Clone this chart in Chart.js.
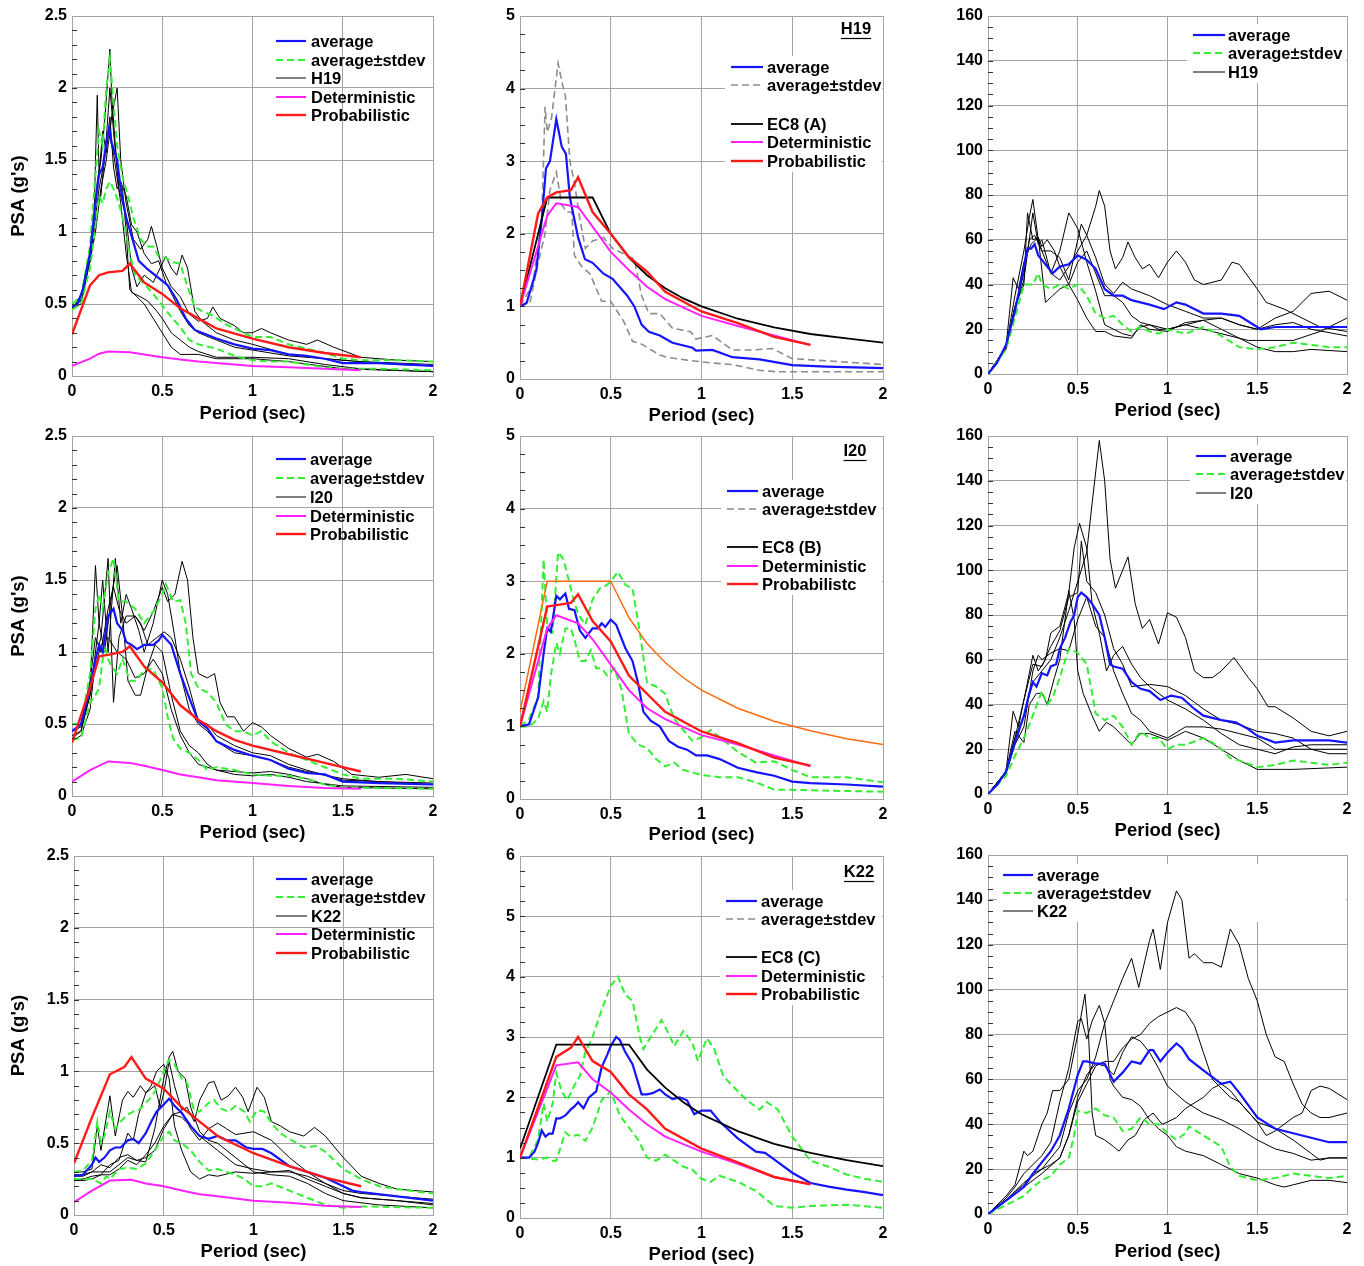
<!DOCTYPE html>
<html><head><meta charset="utf-8">
<script src="https://cdn.jsdelivr.net/npm/chart.js@4.4.1/dist/chart.umd.min.js"></script>
<style>
html,body{margin:0;padding:0;background:#fff;overflow:hidden;width:1364px;height:1266px;position:relative;}
canvas{position:absolute;}
</style></head><body>
<script>
// ===================== DATA (period sec, value) =====================
// ---- H19 : PSA (g) ----
const h19_psa_avg = [[0,0.48],[0.03,0.5],[0.06,0.6],[0.1,0.85],[0.13,1.2],[0.15,1.4],[0.17,1.45],[0.19,1.62],[0.205,1.72],[0.22,1.62],[0.25,1.5],[0.27,1.3],[0.3,1.1],[0.34,0.93],[0.37,0.8],[0.42,0.74],[0.46,0.7],[0.5,0.66],[0.53,0.63],[0.58,0.53],[0.63,0.4],[0.68,0.32],[0.72,0.3],[0.8,0.26],[0.9,0.22],[1.0,0.19],[1.1,0.18],[1.2,0.15],[1.3,0.14],[1.4,0.12],[1.5,0.09],[1.7,0.09],[2.0,0.07]];
const h19_psa_hi = [[0,0.5],[0.05,0.55],[0.1,0.9],[0.13,1.4],[0.15,1.7],[0.17,1.6],[0.19,2.0],[0.21,2.2],[0.23,1.9],[0.25,1.6],[0.28,1.38],[0.31,1.25],[0.34,1.1],[0.38,0.95],[0.42,0.9],[0.45,0.9],[0.48,0.83],[0.52,0.82],[0.56,0.79],[0.6,0.78],[0.64,0.62],[0.68,0.48],[0.72,0.45],[0.78,0.42],[0.85,0.36],[0.9,0.33],[1.0,0.27],[1.1,0.27],[1.2,0.22],[1.3,0.19],[1.4,0.16],[1.5,0.12],[1.6,0.11],[1.8,0.11],[2.0,0.1]];
const h19_psa_lo = [[0,0.46],[0.05,0.5],[0.1,0.75],[0.13,1.05],[0.15,1.25],[0.17,1.2],[0.19,1.3],[0.21,1.35],[0.23,1.3],[0.26,1.2],[0.29,1.05],[0.32,0.85],[0.35,0.7],[0.4,0.64],[0.45,0.57],[0.5,0.49],[0.55,0.41],[0.6,0.34],[0.65,0.25],[0.7,0.22],[0.8,0.19],[0.9,0.14],[1.0,0.11],[1.1,0.1],[1.2,0.1],[1.3,0.08],[1.4,0.06],[1.5,0.05],[1.7,0.05],[2.0,0.04]];
const h19_psa_r1 = [[0,0.47],[0.05,0.55],[0.08,0.75],[0.1,0.85],[0.12,1.1],[0.14,1.35],[0.16,1.5],[0.18,1.75],[0.2,2.1],[0.21,2.27],[0.22,1.95],[0.24,1.6],[0.26,1.35],[0.28,1.3],[0.3,1.0],[0.32,0.6],[0.36,0.55],[0.4,0.5],[0.45,0.4],[0.5,0.3],[0.55,0.2],[0.6,0.15],[0.7,0.15],[0.8,0.12],[1.0,0.12],[1.2,0.1],[1.5,0.05],[2.0,0.03]];
const h19_psa_r2 = [[0,0.48],[0.05,0.52],[0.08,0.7],[0.1,0.88],[0.12,0.95],[0.13,1.5],[0.14,1.95],[0.15,1.4],[0.17,1.7],[0.19,1.55],[0.21,1.8],[0.23,1.45],[0.25,1.3],[0.27,1.35],[0.3,1.25],[0.33,1.05],[0.36,1.0],[0.4,0.85],[0.44,0.78],[0.48,0.8],[0.52,0.65],[0.56,0.55],[0.6,0.45],[0.65,0.35],[0.7,0.3],[0.8,0.25],[0.9,0.2],[1.0,0.18],[1.2,0.14],[1.4,0.12],[1.6,0.1],[1.8,0.08],[2.0,0.07]];
const h19_psa_r3 = [[0,0.5],[0.05,0.55],[0.1,0.8],[0.13,1.0],[0.16,1.3],[0.19,1.5],[0.22,1.8],[0.25,2.0],[0.27,1.5],[0.3,1.2],[0.34,0.95],[0.38,0.88],[0.42,0.95],[0.44,1.04],[0.47,0.9],[0.5,0.75],[0.55,0.62],[0.6,0.55],[0.65,0.43],[0.7,0.38],[0.75,0.4],[0.78,0.48],[0.82,0.4],[0.9,0.35],[0.95,0.3],[1.0,0.3],[1.05,0.33],[1.1,0.3],[1.2,0.25],[1.3,0.22],[1.36,0.25],[1.45,0.2],[1.6,0.13],[1.8,0.11],[2.0,0.1]];
const h19_psa_r4 = [[0,0.47],[0.05,0.5],[0.1,0.8],[0.13,1.2],[0.16,1.25],[0.19,1.65],[0.21,2.0],[0.23,1.7],[0.26,1.3],[0.3,1.1],[0.33,0.75],[0.36,0.62],[0.4,0.7],[0.45,0.65],[0.5,0.78],[0.52,0.83],[0.55,0.75],[0.58,0.7],[0.61,0.84],[0.64,0.75],[0.68,0.45],[0.72,0.38],[0.8,0.3],[0.9,0.25],[1.0,0.22],[1.2,0.15],[1.4,0.12],[1.6,0.1],[2.0,0.08]];
const h19_psa_r5 = [[0,0.48],[0.05,0.53],[0.1,0.8],[0.13,1.1],[0.15,1.3],[0.18,1.5],[0.2,1.7],[0.23,1.55],[0.27,1.2],[0.3,0.85],[0.33,0.58],[0.38,0.55],[0.42,0.52],[0.47,0.45],[0.5,0.4],[0.55,0.3],[0.6,0.25],[0.65,0.2],[0.7,0.17],[0.8,0.13],[0.9,0.13],[1.0,0.13],[1.2,0.12],[1.4,0.08],[1.6,0.05],[2.0,0.03]];
const h19_psa_det = [[0,0.07],[0.1,0.12],[0.15,0.155],[0.2,0.17],[0.32,0.165],[0.4,0.15],[0.5,0.13],[0.6,0.115],[0.7,0.1],[0.8,0.09],[1.0,0.07],[1.2,0.06],[1.4,0.05],[1.6,0.04]];
const h19_psa_prob = [[0,0.29],[0.1,0.63],[0.15,0.7],[0.2,0.72],[0.28,0.73],[0.32,0.78],[0.4,0.65],[0.5,0.57],[0.6,0.47],[0.7,0.4],[0.8,0.33],[1.0,0.26],[1.2,0.2],[1.4,0.16],[1.6,0.13]];
// ---- H19 : PSA/PHGA ----
const h19_nrm_avg = [[0,1],[0.037,1.05],[0.09,1.5],[0.12,2.2],[0.143,2.9],[0.165,3.0],[0.2,3.58],[0.23,3.2],[0.253,3.1],[0.275,2.5],[0.32,1.95],[0.358,1.65],[0.4,1.6],[0.46,1.45],[0.51,1.38],[0.59,1.15],[0.63,1.0],[0.67,0.75],[0.71,0.65],[0.77,0.6],[0.84,0.5],[0.95,0.43],[0.97,0.39],[1.06,0.4],[1.17,0.3],[1.32,0.27],[1.5,0.19],[1.69,0.17],[2.0,0.15]];
const h19_nrm_hi = [[0,1],[0.07,1.3],[0.12,2.2],[0.138,3.75],[0.15,3.4],[0.174,3.6],[0.193,4.0],[0.21,4.35],[0.23,4.1],[0.25,3.9],[0.275,3.0],[0.3,2.7],[0.33,2.2],[0.36,1.8],[0.4,1.9],[0.46,1.95],[0.51,1.8],[0.59,1.7],[0.63,1.65],[0.67,1.15],[0.71,0.9],[0.77,0.9],[0.84,0.7],[0.94,0.65],[0.97,0.55],[1.06,0.6],[1.17,0.4],[1.28,0.4],[1.39,0.42],[1.5,0.28],[1.69,0.25],[2.0,0.2]];
const h19_nrm_lo = [[0,1],[0.055,1.05],[0.1,1.6],[0.138,2.0],[0.165,2.6],[0.2,2.85],[0.23,2.4],[0.257,2.3],[0.285,2.3],[0.3,1.7],[0.34,1.55],[0.385,1.45],[0.45,1.07],[0.5,1.07],[0.57,0.8],[0.62,0.52],[0.67,0.48],[0.77,0.33],[0.81,0.3],[0.92,0.26],[1.06,0.22],[1.17,0.2],[1.32,0.12],[1.41,0.1],[2.0,0.1]];
const h19_nrm_ec8 = [[0,1],[0.15,2.5],[0.4,2.5],[0.5,2.0],[0.6,1.67],[0.7,1.43],[0.8,1.25],[0.9,1.11],[1.0,1.0],[1.2,0.83],[1.4,0.71],[1.6,0.62],[1.8,0.56],[2.0,0.5]];
const h19_nrm_det = [[0,1],[0.15,2.25],[0.2,2.42],[0.32,2.37],[0.4,2.1],[0.5,1.75],[0.6,1.5],[0.7,1.27],[0.8,1.1],[1.0,0.87],[1.2,0.73],[1.4,0.6],[1.6,0.47]];
const h19_nrm_prob = [[0,1],[0.1,2.28],[0.15,2.5],[0.2,2.57],[0.28,2.6],[0.32,2.78],[0.4,2.3],[0.5,2.0],[0.6,1.68],[0.7,1.48],[0.8,1.2],[1.0,0.93],[1.2,0.77],[1.4,0.58],[1.6,0.47]];
// ---- H19 : PSV (cm/s) ----
const h19_psv_avg = [[0,0],[0.05,5],[0.1,13],[0.15,28],[0.2,48],[0.22,56],[0.24,56],[0.26,58],[0.28,53],[0.3,51],[0.33,48],[0.36,45],[0.4,48],[0.45,49],[0.5,53],[0.55,51],[0.6,47],[0.65,38],[0.7,35],[0.75,35],[0.8,33],[0.9,31],[0.98,29],[1.05,32],[1.1,31],[1.2,27],[1.3,27],[1.4,26],[1.52,20],[1.6,21],[1.8,21],[2.0,21]];
const h19_psv_std = [[0,0],[0.1,11],[0.15,25],[0.2,40],[0.25,40],[0.28,45],[0.3,40],[0.35,38],[0.4,40],[0.45,38],[0.5,40],[0.55,35],[0.6,27],[0.65,25],[0.7,26],[0.75,22],[0.8,19],[0.85,21],[0.9,19],[0.95,18],[1.0,20],[1.1,18],[1.2,21],[1.3,17],[1.4,12],[1.5,11],[1.6,12],[1.7,14],[1.8,13],[1.9,12],[2.0,12]];
const h19_psv_r1 = [[0,0],[0.1,12],[0.15,30],[0.2,45],[0.23,60],[0.26,62],[0.3,55],[0.35,45],[0.4,42],[0.45,48],[0.5,55],[0.55,62],[0.6,75],[0.62,82],[0.65,75],[0.68,55],[0.71,47],[0.75,52],[0.78,59],[0.82,52],[0.86,47],[0.9,49],[0.95,43],[1.0,50],[1.05,55],[1.1,50],[1.15,42],[1.2,40],[1.3,42],[1.36,50],[1.4,49],[1.5,38],[1.55,32],[1.65,29],[1.75,25],[1.85,21],[2.0,19]];
const h19_psv_r2 = [[0,0],[0.1,12],[0.15,30],[0.2,42],[0.25,72],[0.28,58],[0.3,60],[0.35,45],[0.4,55],[0.45,72],[0.5,65],[0.55,50],[0.6,37],[0.65,22],[0.7,20],[0.75,18],[0.8,17],[0.85,21],[0.9,22],[0.95,20],[1.0,20],[1.1,22],[1.2,24],[1.3,25],[1.4,22],[1.5,20],[1.6,25],[1.7,28],[1.8,36],[1.9,37],[2.0,33]];
const h19_psv_r3 = [[0,0],[0.1,12],[0.15,35],[0.2,55],[0.23,70],[0.25,78],[0.28,60],[0.3,55],[0.35,55],[0.4,52],[0.45,42],[0.5,60],[0.52,67],[0.55,62],[0.6,52],[0.65,40],[0.7,36],[0.75,41],[0.8,38],[0.9,35],[1.0,31],[1.1,28],[1.2,25],[1.3,25],[1.4,22],[1.5,20],[1.6,22],[1.7,23],[1.8,20],[2.0,17]];
const h19_psv_r4 = [[0,0],[0.1,11],[0.15,30],[0.2,40],[0.22,72],[0.25,60],[0.28,61],[0.32,32],[0.36,35],[0.4,38],[0.45,40],[0.5,33],[0.55,25],[0.6,19],[0.65,19],[0.7,17],[0.8,16],[0.85,22],[0.9,20],[1.0,19],[1.1,23],[1.2,24],[1.3,20],[1.4,16],[1.5,12],[1.6,10],[1.7,10],[1.8,11],[2.0,10]];
const h19_psv_r5 = [[0,0],[0.1,12],[0.14,43],[0.17,38],[0.2,50],[0.24,58],[0.28,61],[0.3,57],[0.33,60],[0.37,55],[0.4,48],[0.45,40],[0.5,50],[0.55,55],[0.6,45],[0.65,35],[0.7,35],[0.75,32],[0.8,26],[0.85,23],[0.9,22],[1.0,20],[1.1,22],[1.2,20],[1.3,18],[1.45,15],[1.5,15],[1.7,15],[1.85,19],[2.0,25]];
// ---- I20 : PSA (g) ----
const i20_psa_avg = [[0,0.45],[0.05,0.5],[0.1,0.75],[0.13,0.95],[0.15,1.05],[0.17,1.0],[0.2,1.25],[0.23,1.3],[0.25,1.2],[0.28,1.15],[0.3,1.07],[0.33,1.05],[0.36,1.02],[0.4,1.05],[0.45,1.05],[0.48,1.08],[0.5,1.12],[0.55,1.05],[0.6,0.85],[0.65,0.68],[0.7,0.52],[0.75,0.47],[0.8,0.38],[0.9,0.32],[1.0,0.28],[1.1,0.25],[1.2,0.19],[1.3,0.16],[1.4,0.15],[1.5,0.1],[1.7,0.09],[2.0,0.08]];
const i20_psa_hi = [[0,0.5],[0.05,0.5],[0.1,0.85],[0.13,1.3],[0.15,1.4],[0.17,1.3],[0.2,1.55],[0.23,1.65],[0.26,1.35],[0.3,1.35],[0.35,1.3],[0.4,1.2],[0.45,1.28],[0.5,1.4],[0.52,1.47],[0.56,1.35],[0.6,1.36],[0.63,1.2],[0.66,0.85],[0.7,0.75],[0.75,0.72],[0.8,0.65],[0.85,0.5],[0.9,0.45],[0.95,0.45],[1.0,0.42],[1.05,0.45],[1.1,0.38],[1.2,0.3],[1.3,0.25],[1.4,0.2],[1.5,0.15],[1.6,0.12],[1.8,0.12],[2.0,0.1]];
const i20_psa_lo = [[0,0.4],[0.05,0.4],[0.1,0.65],[0.13,0.7],[0.15,0.75],[0.18,1.05],[0.2,0.95],[0.22,0.9],[0.25,0.85],[0.28,0.95],[0.32,0.8],[0.36,0.8],[0.4,0.88],[0.45,0.88],[0.5,0.75],[0.53,0.55],[0.56,0.4],[0.6,0.33],[0.65,0.3],[0.7,0.25],[0.75,0.18],[0.8,0.2],[0.9,0.18],[1.0,0.15],[1.1,0.14],[1.2,0.14],[1.3,0.12],[1.4,0.08],[1.5,0.06],[2.0,0.05]];
const i20_psa_r1 = [[0,0.45],[0.05,0.5],[0.1,0.8],[0.13,1.1],[0.16,1.0],[0.2,1.3],[0.23,1.45],[0.26,1.3],[0.3,1.2],[0.35,1.25],[0.4,1.15],[0.45,1.28],[0.5,1.45],[0.53,1.35],[0.57,1.4],[0.61,1.63],[0.64,1.5],[0.67,1.1],[0.7,0.85],[0.75,0.82],[0.79,0.85],[0.82,0.65],[0.86,0.55],[0.9,0.55],[0.95,0.45],[1.0,0.51],[1.05,0.48],[1.1,0.42],[1.2,0.33],[1.3,0.27],[1.36,0.29],[1.45,0.24],[1.55,0.15],[1.7,0.13],[1.85,0.15],[2.0,0.12]];
const i20_psa_r2 = [[0,0.4],[0.05,0.45],[0.1,0.75],[0.13,1.6],[0.15,1.2],[0.17,1.5],[0.2,1.0],[0.24,1.65],[0.27,1.2],[0.3,1.4],[0.33,1.3],[0.37,1.15],[0.4,1.0],[0.45,1.2],[0.5,1.5],[0.53,1.4],[0.57,1.1],[0.6,0.85],[0.65,0.6],[0.7,0.5],[0.75,0.45],[0.8,0.38],[0.9,0.3],[1.0,0.28],[1.1,0.25],[1.2,0.2],[1.3,0.17],[1.5,0.12],[1.7,0.1],[2.0,0.09]];
const i20_psa_r3 = [[0,0.38],[0.05,0.42],[0.1,0.6],[0.13,0.95],[0.16,1.1],[0.2,1.65],[0.23,0.65],[0.26,1.1],[0.3,1.25],[0.35,1.25],[0.38,1.2],[0.42,1.05],[0.47,1.1],[0.51,1.14],[0.55,1.1],[0.6,0.95],[0.65,0.75],[0.7,0.52],[0.75,0.5],[0.8,0.42],[0.9,0.35],[1.0,0.3],[1.1,0.28],[1.2,0.22],[1.3,0.18],[1.5,0.11],[1.7,0.1],[2.0,0.08]];
const i20_psa_r4 = [[0,0.45],[0.05,0.48],[0.1,0.7],[0.13,1.0],[0.15,1.2],[0.18,1.0],[0.22,1.4],[0.25,1.6],[0.28,1.25],[0.31,0.8],[0.35,0.7],[0.38,0.7],[0.42,0.9],[0.46,1.05],[0.5,1.0],[0.55,0.7],[0.6,0.45],[0.65,0.35],[0.7,0.3],[0.75,0.22],[0.8,0.18],[0.9,0.17],[1.0,0.16],[1.1,0.17],[1.2,0.15],[1.3,0.12],[1.4,0.08],[1.5,0.06],[2.0,0.05]];
const i20_psa_r5 = [[0,0.42],[0.05,0.45],[0.1,0.7],[0.13,0.9],[0.16,1.05],[0.2,1.1],[0.25,1.0],[0.3,0.95],[0.35,0.82],[0.4,0.85],[0.45,0.95],[0.5,0.85],[0.55,0.6],[0.6,0.42],[0.65,0.3],[0.7,0.22],[0.75,0.2],[0.8,0.18],[0.9,0.15],[1.0,0.14],[1.1,0.15],[1.2,0.13],[1.3,0.1],[1.5,0.07],[2.0,0.06]];
const i20_psa_det = [[0,0.1],[0.1,0.18],[0.2,0.24],[0.32,0.23],[0.4,0.21],[0.5,0.18],[0.6,0.15],[0.7,0.13],[0.8,0.11],[1.0,0.09],[1.2,0.07],[1.4,0.055],[1.6,0.05]];
const i20_psa_prob = [[0,0.37],[0.1,0.75],[0.15,0.97],[0.2,0.98],[0.28,1.0],[0.32,1.04],[0.4,0.9],[0.5,0.79],[0.6,0.63],[0.7,0.53],[0.8,0.45],[0.9,0.39],[1.0,0.35],[1.2,0.29],[1.4,0.23],[1.6,0.17]];
// ---- I20 : PSA/PHGA ----
const i20_nrm_avg = [[0,1],[0.05,1.03],[0.1,1.4],[0.13,2.0],[0.15,2.35],[0.17,2.3],[0.2,2.8],[0.22,2.75],[0.25,2.83],[0.27,2.62],[0.3,2.6],[0.33,2.32],[0.36,2.22],[0.4,2.35],[0.43,2.35],[0.45,2.42],[0.47,2.37],[0.5,2.47],[0.53,2.4],[0.58,2.08],[0.62,1.9],[0.65,1.6],[0.68,1.2],[0.72,1.08],[0.77,1.0],[0.82,0.8],[0.87,0.72],[0.92,0.68],[0.97,0.6],[1.03,0.6],[1.1,0.55],[1.2,0.43],[1.3,0.37],[1.4,0.32],[1.5,0.24],[1.6,0.22],[1.8,0.2],[2.0,0.17]];
const i20_nrm_hi = [[0,1],[0.05,1.1],[0.1,1.4],[0.13,3.3],[0.15,2.4],[0.18,2.3],[0.21,3.4],[0.24,3.3],[0.26,3.1],[0.29,2.8],[0.32,2.55],[0.36,2.4],[0.4,2.75],[0.44,2.9],[0.48,2.95],[0.5,3.0],[0.54,3.13],[0.58,2.95],[0.62,2.9],[0.66,2.3],[0.7,1.6],[0.75,1.55],[0.8,1.45],[0.85,1.1],[0.9,0.95],[0.95,0.8],[1.0,0.85],[1.05,0.95],[1.1,0.85],[1.2,0.65],[1.3,0.5],[1.4,0.52],[1.5,0.4],[1.6,0.3],[1.8,0.3],[2.0,0.23]];
const i20_nrm_lo = [[0,1],[0.05,1.0],[0.1,1.1],[0.13,1.35],[0.15,1.2],[0.17,1.7],[0.2,2.15],[0.22,2.0],[0.25,2.35],[0.28,2.35],[0.3,2.2],[0.33,1.9],[0.36,1.9],[0.39,2.05],[0.42,1.8],[0.45,1.8],[0.48,1.7],[0.52,1.8],[0.56,1.5],[0.6,0.9],[0.65,0.75],[0.7,0.7],[0.75,0.55],[0.8,0.45],[0.85,0.5],[0.9,0.4],[1.0,0.33],[1.1,0.3],[1.2,0.3],[1.3,0.23],[1.4,0.13],[1.6,0.12],[2.0,0.1]];
const i20_nrm_ec8 = [[0,1.2],[0.15,3.0],[0.5,3.0],[0.6,2.5],[0.7,2.14],[0.8,1.88],[0.9,1.67],[1.0,1.5],[1.2,1.25],[1.4,1.07],[1.6,0.94],[1.8,0.83],[2.0,0.75]];
const i20_nrm_det = [[0,1],[0.15,2.35],[0.2,2.53],[0.32,2.42],[0.4,2.2],[0.5,1.85],[0.6,1.5],[0.7,1.25],[0.8,1.1],[1.0,0.88],[1.2,0.75],[1.4,0.6],[1.6,0.45]];
const i20_nrm_prob = [[0,1],[0.15,2.65],[0.2,2.67],[0.28,2.7],[0.32,2.82],[0.4,2.45],[0.5,2.17],[0.6,1.7],[0.7,1.45],[0.8,1.2],[1.0,0.93],[1.2,0.77],[1.4,0.57],[1.6,0.46]];
// ---- I20 : PSV (cm/s) ----
const i20_psv_avg = [[0,0],[0.05,4],[0.1,10],[0.15,23],[0.2,35],[0.23,45],[0.25,50],[0.27,48],[0.3,54],[0.33,53],[0.35,57],[0.38,58],[0.4,65],[0.43,70],[0.46,77],[0.48,80],[0.5,88],[0.52,90],[0.55,88],[0.58,85],[0.62,80],[0.65,70],[0.68,58],[0.7,57],[0.75,56],[0.8,50],[0.85,47],[0.9,46],[0.96,42],[1.02,44],[1.08,43],[1.15,38],[1.2,35],[1.3,33],[1.38,32],[1.45,29],[1.5,26],[1.6,23],[1.7,24],[1.8,24],[1.9,24],[2.0,23]];
const i20_psv_std = [[0,0],[0.1,8],[0.15,17],[0.2,25],[0.25,35],[0.3,46],[0.33,40],[0.36,43],[0.4,52],[0.45,65],[0.5,63],[0.55,58],[0.58,45],[0.6,36],[0.65,33],[0.7,35],[0.75,30],[0.8,22],[0.85,28],[0.9,25],[0.95,25],[1.0,20],[1.05,22],[1.1,22],[1.2,25],[1.25,23],[1.3,20],[1.35,16],[1.4,15],[1.5,12],[1.6,13],[1.7,15],[1.8,14],[1.9,13],[2.0,14]];
const i20_psv_r1 = [[0,0],[0.1,10],[0.15,25],[0.2,35],[0.25,50],[0.3,55],[0.35,60],[0.4,70],[0.45,82],[0.5,95],[0.55,108],[0.58,130],[0.62,158],[0.65,140],[0.68,105],[0.71,92],[0.75,100],[0.78,106],[0.82,85],[0.86,74],[0.9,78],[0.95,67],[1.0,81],[1.05,79],[1.1,70],[1.15,55],[1.2,52],[1.25,52],[1.3,55],[1.37,61],[1.45,52],[1.5,47],[1.56,39],[1.6,39],[1.7,34],[1.8,28],[1.9,26],[2.0,28]];
const i20_psv_r2 = [[0,0],[0.1,10],[0.14,37],[0.17,30],[0.2,42],[0.25,62],[0.28,55],[0.32,60],[0.35,72],[0.4,75],[0.45,90],[0.48,110],[0.51,121],[0.55,110],[0.58,85],[0.62,72],[0.66,55],[0.7,62],[0.75,66],[0.8,58],[0.85,52],[0.9,48],[1.0,42],[1.1,38],[1.2,33],[1.3,27],[1.4,22],[1.5,20],[1.6,18],[1.7,21],[1.8,22],[2.0,22]];
const i20_psv_r3 = [[0,0],[0.1,10],[0.15,25],[0.2,42],[0.25,58],[0.3,57],[0.35,66],[0.4,73],[0.45,88],[0.5,90],[0.52,113],[0.55,95],[0.6,90],[0.65,80],[0.7,65],[0.75,58],[0.8,48],[0.9,49],[1.0,48],[1.1,44],[1.2,38],[1.3,33],[1.4,31],[1.5,28],[1.6,27],[1.7,25],[1.8,20],[1.9,18],[2.0,18]];
const i20_psv_r4 = [[0,0],[0.1,10],[0.15,28],[0.2,23],[0.23,40],[0.27,45],[0.3,45],[0.33,40],[0.37,52],[0.4,60],[0.45,91],[0.48,78],[0.5,55],[0.53,45],[0.58,35],[0.62,28],[0.66,32],[0.7,30],[0.75,26],[0.8,22],[0.85,27],[0.9,27],[1.0,24],[1.1,28],[1.2,25],[1.3,20],[1.4,15],[1.5,11],[1.7,11],[2.0,12]];
const i20_psv_r5 = [[0,0],[0.1,9],[0.15,22],[0.2,30],[0.25,55],[0.28,62],[0.3,60],[0.35,63],[0.4,65],[0.45,64],[0.5,78],[0.55,88],[0.6,75],[0.65,70],[0.7,55],[0.75,45],[0.8,36],[0.85,33],[0.9,28],[1.0,25],[1.1,30],[1.2,30],[1.3,29],[1.4,27],[1.5,25],[1.6,20],[1.7,20],[1.8,20],[2.0,20]];
// ---- K22 : PSA (g) ----
const k22_psa_avg = [[0,0.27],[0.05,0.28],[0.1,0.35],[0.12,0.4],[0.14,0.37],[0.17,0.4],[0.2,0.45],[0.23,0.47],[0.26,0.47],[0.3,0.52],[0.33,0.53],[0.36,0.5],[0.4,0.57],[0.43,0.65],[0.46,0.72],[0.5,0.77],[0.53,0.81],[0.56,0.76],[0.6,0.71],[0.65,0.62],[0.7,0.55],[0.75,0.53],[0.8,0.55],[0.85,0.52],[0.9,0.52],[0.96,0.47],[1.0,0.46],[1.05,0.46],[1.1,0.43],[1.2,0.34],[1.3,0.3],[1.4,0.26],[1.5,0.2],[1.55,0.17],[1.6,0.16],[1.8,0.13],[2.0,0.1]];
const k22_psa_hi = [[0,0.3],[0.05,0.31],[0.1,0.38],[0.13,0.65],[0.15,0.5],[0.17,0.55],[0.2,0.72],[0.23,0.6],[0.26,0.65],[0.3,0.7],[0.33,0.72],[0.36,0.73],[0.4,0.78],[0.43,0.82],[0.46,0.88],[0.5,1.0],[0.53,1.08],[0.56,1.05],[0.6,0.95],[0.63,0.92],[0.67,0.72],[0.7,0.72],[0.75,0.78],[0.78,0.8],[0.82,0.74],[0.86,0.72],[0.9,0.76],[0.95,0.72],[0.98,0.65],[1.02,0.73],[1.06,0.72],[1.1,0.64],[1.15,0.57],[1.2,0.53],[1.28,0.47],[1.35,0.48],[1.4,0.44],[1.5,0.32],[1.6,0.25],[1.7,0.2],[1.8,0.18],[2.0,0.15]];
const k22_psa_lo = [[0,0.25],[0.05,0.25],[0.1,0.25],[0.15,0.22],[0.18,0.27],[0.2,0.25],[0.25,0.32],[0.3,0.33],[0.35,0.32],[0.4,0.36],[0.45,0.45],[0.5,0.55],[0.53,0.58],[0.56,0.52],[0.6,0.5],[0.65,0.45],[0.7,0.37],[0.75,0.31],[0.8,0.32],[0.85,0.3],[0.9,0.28],[0.95,0.25],[1.0,0.2],[1.05,0.2],[1.1,0.22],[1.2,0.17],[1.3,0.12],[1.4,0.07],[1.5,0.05],[1.6,0.06],[2.0,0.05]];
const k22_psa_r1 = [[0,0.3],[0.05,0.3],[0.1,0.32],[0.13,0.62],[0.15,0.45],[0.2,0.83],[0.23,0.55],[0.27,0.8],[0.3,0.86],[0.33,0.82],[0.37,0.9],[0.4,0.85],[0.45,0.9],[0.48,0.75],[0.5,0.85],[0.53,1.07],[0.56,0.9],[0.6,0.73],[0.63,0.75],[0.67,0.65],[0.7,0.8],[0.75,0.92],[0.78,0.93],[0.82,0.8],[0.86,0.83],[0.9,0.89],[0.94,0.82],[0.97,0.72],[1.02,0.89],[1.06,0.82],[1.1,0.65],[1.15,0.62],[1.2,0.58],[1.28,0.55],[1.34,0.61],[1.4,0.55],[1.5,0.4],[1.6,0.27],[1.7,0.22],[1.8,0.18],[2.0,0.16]];
const k22_psa_r2 = [[0,0.28],[0.05,0.28],[0.1,0.3],[0.15,0.3],[0.2,0.3],[0.25,0.35],[0.3,0.4],[0.35,0.38],[0.4,0.37],[0.45,0.6],[0.5,0.95],[0.53,1.1],[0.55,1.14],[0.58,1.0],[0.62,0.95],[0.65,0.75],[0.7,0.58],[0.75,0.52],[0.8,0.5],[0.9,0.4],[1.0,0.3],[1.1,0.28],[1.2,0.27],[1.3,0.22],[1.4,0.15],[1.5,0.1],[1.7,0.07],[2.0,0.05]];
const k22_psa_r3 = [[0,0.25],[0.05,0.25],[0.1,0.27],[0.15,0.28],[0.2,0.35],[0.25,0.38],[0.3,0.57],[0.33,0.52],[0.36,0.7],[0.4,0.85],[0.43,0.9],[0.46,1.0],[0.5,1.05],[0.53,0.95],[0.56,0.62],[0.6,0.45],[0.65,0.3],[0.7,0.25],[0.75,0.28],[0.8,0.27],[0.9,0.3],[1.0,0.29],[1.1,0.3],[1.2,0.31],[1.3,0.25],[1.4,0.2],[1.5,0.15],[1.6,0.12],[1.8,0.1],[2.0,0.08]];
const k22_psa_r4 = [[0,0.27],[0.05,0.27],[0.1,0.3],[0.15,0.35],[0.2,0.33],[0.25,0.4],[0.3,0.42],[0.35,0.38],[0.4,0.4],[0.45,0.45],[0.5,0.6],[0.55,0.7],[0.6,0.72],[0.65,0.6],[0.7,0.52],[0.75,0.6],[0.8,0.64],[0.85,0.6],[0.9,0.56],[1.0,0.58],[1.1,0.52],[1.2,0.4],[1.3,0.3],[1.4,0.22],[1.5,0.15],[1.6,0.12],[1.8,0.1],[2.0,0.07]];
const k22_psa_r5 = [[0,0.24],[0.05,0.24],[0.1,0.25],[0.15,0.28],[0.2,0.28],[0.25,0.32],[0.3,0.38],[0.35,0.35],[0.4,0.42],[0.45,0.5],[0.5,0.62],[0.55,0.7],[0.6,0.68],[0.65,0.62],[0.7,0.55],[0.8,0.45],[0.9,0.35],[1.0,0.32],[1.1,0.3],[1.2,0.3],[1.3,0.27],[1.4,0.22],[1.5,0.17],[1.6,0.15],[1.8,0.13],[2.0,0.11]];
const k22_psa_det = [[0,0.09],[0.1,0.17],[0.2,0.24],[0.32,0.245],[0.4,0.22],[0.5,0.2],[0.6,0.17],[0.7,0.145],[0.8,0.13],[1.0,0.1],[1.2,0.085],[1.4,0.065],[1.6,0.055]];
const k22_psa_prob = [[0,0.36],[0.1,0.68],[0.2,0.98],[0.28,1.03],[0.32,1.1],[0.4,0.95],[0.5,0.88],[0.6,0.75],[0.7,0.65],[0.8,0.55],[1.0,0.43],[1.2,0.34],[1.4,0.26],[1.6,0.2]];
// ---- K22 : PSA/PHGA ----
const k22_nrm_avg = [[0,1],[0.05,1.0],[0.08,1.1],[0.1,1.25],[0.12,1.45],[0.14,1.35],[0.16,1.4],[0.18,1.4],[0.2,1.65],[0.22,1.65],[0.25,1.7],[0.28,1.8],[0.3,1.85],[0.32,1.92],[0.35,1.82],[0.38,2.0],[0.42,2.1],[0.45,2.5],[0.48,2.7],[0.5,2.85],[0.53,3.0],[0.55,2.95],[0.58,2.75],[0.62,2.55],[0.67,2.05],[0.7,2.05],[0.73,2.07],[0.77,2.13],[0.8,2.05],[0.84,1.97],[0.88,2.0],[0.92,1.95],[0.96,1.72],[1.0,1.78],[1.05,1.78],[1.1,1.6],[1.2,1.32],[1.3,1.1],[1.35,1.08],[1.4,0.97],[1.5,0.75],[1.6,0.58],[1.7,0.52],[1.8,0.47],[1.9,0.43],[2.0,0.38]];
const k22_nrm_hi = [[0,1],[0.05,1.0],[0.1,1.3],[0.13,1.9],[0.15,1.6],[0.18,1.9],[0.2,2.4],[0.23,2.1],[0.26,1.95],[0.3,2.2],[0.33,2.35],[0.36,2.75],[0.4,3.0],[0.45,3.45],[0.5,3.85],[0.54,4.0],[0.58,3.7],[0.62,3.6],[0.66,3.0],[0.68,2.8],[0.72,3.0],[0.78,3.28],[0.82,3.05],[0.85,2.85],[0.9,3.1],[0.95,2.9],[0.98,2.6],[1.03,2.98],[1.07,2.8],[1.12,2.35],[1.2,2.1],[1.25,1.95],[1.32,1.8],[1.36,1.92],[1.42,1.8],[1.5,1.35],[1.6,0.95],[1.7,0.85],[1.8,0.72],[1.9,0.65],[2.0,0.6]];
const k22_nrm_lo = [[0,1],[0.1,0.97],[0.15,1.0],[0.18,0.95],[0.2,0.95],[0.25,1.42],[0.28,1.35],[0.32,1.38],[0.36,1.28],[0.4,1.5],[0.45,1.95],[0.5,2.1],[0.55,1.7],[0.6,1.5],[0.65,1.3],[0.7,1.0],[0.75,0.95],[0.8,1.05],[0.85,0.95],[0.9,0.85],[0.95,0.8],[1.0,0.65],[1.05,0.6],[1.1,0.7],[1.2,0.6],[1.3,0.45],[1.4,0.2],[1.5,0.17],[1.6,0.2],[1.8,0.22],[2.0,0.17]];
const k22_nrm_ec8 = [[0,1.15],[0.2,2.875],[0.6,2.875],[0.7,2.46],[0.8,2.16],[0.9,1.92],[1.0,1.72],[1.2,1.44],[1.4,1.23],[1.6,1.08],[1.8,0.96],[2.0,0.86]];
const k22_nrm_det = [[0,1],[0.2,2.53],[0.32,2.58],[0.4,2.3],[0.5,2.08],[0.6,1.8],[0.7,1.55],[0.8,1.35],[1.0,1.1],[1.2,0.9],[1.4,0.68],[1.6,0.56]];
const k22_nrm_prob = [[0,1],[0.2,2.67],[0.28,2.82],[0.32,3.0],[0.4,2.6],[0.5,2.42],[0.6,2.05],[0.7,1.8],[0.8,1.48],[1.0,1.15],[1.2,0.92],[1.4,0.68],[1.6,0.56]];
// ---- K22 : PSV (cm/s) ----
const k22_psv_avg = [[0,0],[0.05,3],[0.1,6],[0.15,9],[0.2,12],[0.25,18],[0.3,23],[0.35,28],[0.4,35],[0.45,47],[0.5,62],[0.53,68],[0.55,68],[0.6,67],[0.65,67],[0.7,59],[0.75,63],[0.8,68],[0.85,67],[0.9,73],[0.92,73],[0.96,68],[1.0,72],[1.05,76],[1.08,74],[1.12,69],[1.2,64],[1.25,61],[1.3,58],[1.35,59],[1.4,54],[1.5,43],[1.6,38],[1.7,36],[1.8,34],[1.9,32],[2.0,32]];
const k22_psv_std = [[0,0],[0.1,4],[0.2,8],[0.25,12],[0.3,15],[0.35,17],[0.4,22],[0.45,25],[0.48,35],[0.5,46],[0.55,45],[0.6,47],[0.65,44],[0.7,43],[0.75,37],[0.8,38],[0.85,43],[0.9,40],[0.95,40],[1.0,36],[1.05,33],[1.1,36],[1.12,39],[1.2,35],[1.3,30],[1.35,21],[1.4,17],[1.5,15],[1.6,16],[1.7,18],[1.8,17],[1.9,16],[2.0,17]];
const k22_psv_r1 = [[0,0],[0.1,6],[0.15,10],[0.2,13],[0.25,18],[0.3,20],[0.35,25],[0.4,30],[0.45,45],[0.5,55],[0.55,60],[0.6,70],[0.65,85],[0.7,95],[0.75,105],[0.8,114],[0.84,101],[0.9,122],[0.92,127],[0.96,109],[1.0,130],[1.05,144],[1.08,140],[1.12,114],[1.15,116],[1.2,112],[1.25,112],[1.3,110],[1.35,127],[1.4,120],[1.45,105],[1.5,95],[1.55,80],[1.6,70],[1.65,68],[1.7,58],[1.75,49],[1.8,45],[1.85,43],[1.9,43],[2.0,45]];
const k22_psv_r2 = [[0,0],[0.1,8],[0.15,13],[0.2,28],[0.22,26],[0.25,28],[0.3,40],[0.33,45],[0.36,55],[0.4,55],[0.45,60],[0.5,80],[0.54,98],[0.56,80],[0.58,45],[0.6,35],[0.65,33],[0.7,30],[0.73,28],[0.78,33],[0.82,35],[0.87,42],[0.92,45],[0.97,40],[1.0,41],[1.05,43],[1.1,47],[1.2,52],[1.25,56],[1.3,58],[1.35,55],[1.4,50],[1.5,41],[1.55,35],[1.6,37],[1.7,43],[1.75,45],[1.8,55],[1.85,57],[1.9,56],[2.0,51]];
const k22_psv_r3 = [[0,0],[0.1,6],[0.15,10],[0.2,14],[0.25,17],[0.3,20],[0.35,22],[0.4,25],[0.45,35],[0.5,50],[0.55,58],[0.6,66],[0.65,68],[0.7,68],[0.75,74],[0.8,78],[0.85,80],[0.9,85],[0.95,88],[1.0,90],[1.05,92],[1.1,90],[1.15,84],[1.2,72],[1.25,60],[1.3,56],[1.35,52],[1.4,50],[1.5,41],[1.6,38],[1.7,33],[1.8,27],[1.85,24],[1.9,25],[2.0,25]];
const k22_psv_r4 = [[0,0],[0.1,7],[0.15,12],[0.2,18],[0.25,22],[0.3,26],[0.35,32],[0.4,50],[0.45,65],[0.5,86],[0.52,87],[0.55,78],[0.58,86],[0.62,93],[0.65,85],[0.68,60],[0.7,57],[0.75,52],[0.8,51],[0.85,48],[0.9,42],[0.95,38],[1.0,35],[1.05,30],[1.1,28],[1.2,26],[1.3,22],[1.4,18],[1.5,16],[1.6,13],[1.65,12],[1.7,13],[1.8,15],[1.9,15],[2.0,14]];
const k22_psv_r5 = [[0,0],[0.1,6],[0.2,12],[0.3,18],[0.4,25],[0.45,35],[0.5,52],[0.55,62],[0.6,67],[0.65,66],[0.7,62],[0.75,72],[0.8,79],[0.85,77],[0.9,72],[0.95,65],[1.0,57],[1.1,50],[1.2,45],[1.3,42],[1.4,38],[1.5,33],[1.6,29],[1.7,27],[1.8,24],[1.9,25],[2.0,25]];

// axis / legend texts
const xTitle = 'Period (sec)';
const yTitles = ["PSA (g's)", 'PSA/PHGA', 'PSV (cm/sec)'];
const sites = ['H19', 'I20', 'K22'];
const ec8Labels = ['EC8 (A)', 'EC8 (B)', 'EC8 (C)'];
const probLabels = ['Probabilistic', 'Probabilistc', 'Probabilistic'];

// ===================== RENDERING =====================
const FONT = '"Liberation Sans", Arial, Helvetica, sans-serif';
Chart.defaults.font.family = FONT;
Chart.defaults.font.weight = 'bold';
Chart.defaults.color = '#000';
const GRID = '#a3a3a3';
const TICKF = {size:16, weight:'bold'}, TITLEF = {size:18.5, weight:'bold'};
const COL = { blue:'#1414ff', green:'#33ee33', black:'#000000', magenta:'#ff22ff', red:'#ff1a1a', gray:'#8c8c8c', orange:'#ff6a10' };
const STY = {
  avg:{c:COL.blue,w:2.2,d:[]}, std:{c:COL.green,w:2,d:[7,4]}, gstd:{c:COL.gray,w:1.6,d:[7,4]},
  rec:{c:COL.black,w:1,d:[]}, det:{c:COL.magenta,w:2,d:[]}, prob:{c:COL.red,w:2.4,d:[]},
  ec8:{c:COL.black,w:1.8,d:[]}, ec8o:{c:COL.orange,w:1.5,d:[]}
};
function ds(label, arr, s) {
  return { label, data: arr.map(p => ({x:p[0], y:p[1]})), borderColor:s.c, borderWidth:s.w, borderDash:s.d,
           pointRadius:0, pointHoverRadius:0, fill:false, tension:0 };
}
const fmtTick = (v) => String(Math.round(v * 1000) / 1000);

function makeLegendPlugin(o, left, top) {
  return {
    id:'panelLegend',
    beforeDatasetsDraw(chart) {
      if (!o.box) return;
      const ctx = chart.ctx, ca = chart.chartArea;
      ctx.save(); ctx.fillStyle = '#fff';
      const x0 = o.x0 - left - 6, y0 = o.rows[0] - top - 11;
      const y1 = o.rows[o.rows.length-1] - top + 11;
      ctx.fillRect(x0, y0, ca.right - 1 - x0, y1 - y0);
      ctx.restore();
    },
    afterDatasetsDraw(chart) {
      const ctx = chart.ctx;
      ctx.save();
      ctx.font = 'bold 16.5px ' + FONT; ctx.textBaseline = 'middle'; ctx.textAlign = 'left'; ctx.fillStyle = '#000';
      o.items.forEach((it, i) => {
        if (!it) return;
        const y = o.rows[i] - top;
        ctx.beginPath(); ctx.strokeStyle = it.s.c; ctx.lineWidth = it.s.w; ctx.setLineDash(it.s.d);
        ctx.moveTo(o.x0 - left, y); ctx.lineTo(o.x1 - left, y); ctx.stroke(); ctx.setLineDash([]);
        ctx.fillText(it.t, o.tx - left, y + 1);
      });
      if (o.site) {
        const x = o.site.x - left, y = o.site.y - top;
        ctx.textAlign = 'center';
        ctx.fillText(o.site.t, x, y);
        const w = ctx.measureText(o.site.t).width;
        ctx.beginPath(); ctx.strokeStyle = '#000'; ctx.lineWidth = 1.2;
        ctx.moveTo(x - w/2, y + 9.5); ctx.lineTo(x + w/2, y + 9.5); ctx.stroke();
      }
      ctx.restore();
    }
  };
}
function makeMinorPlugin(step) {
  return {
    id:'minorTicks',
    afterDraw(chart) {
      const ctx = chart.ctx, ys = chart.scales.y, ca = chart.chartArea;
      ctx.save(); ctx.strokeStyle = '#333'; ctx.lineWidth = 1;
      const n = Math.round((ys.max - ys.min) / step);
      for (let i = 1; i < n; i++) {
        const py = Math.round(ys.getPixelForValue(ys.min + i * step)) + 0.5;
        ctx.beginPath(); ctx.moveTo(ca.left, py); ctx.lineTo(ca.left + 5, py); ctx.stroke();
      }
      ctx.restore();
    }
  };
}

function makePanel(p) {
  const cv = document.createElement('canvas');
  cv.width = p.w; cv.height = p.h;
  cv.style.left = p.left + 'px'; cv.style.top = p.top + 'px';
  cv.style.width = p.w + 'px'; cv.style.height = p.h + 'px';
  document.body.appendChild(cv);
  new Chart(cv, {
    type:'line',
    data:{ datasets:p.datasets },
    options:{
      responsive:false, animation:false, devicePixelRatio:1, events:[],
      layout:{ padding:{ top:p.padTop, right:p.padRight, left:0, bottom:0 } },
      plugins:{ legend:{display:false}, tooltip:{enabled:false} },
      scales:{
        x:{ type:'linear', min:0, max:2,
            ticks:{ stepSize:0.5, padding:6, maxRotation:0, autoSkip:false, font:TICKF, color:'#000', callback:fmtTick },
            grid:{ color:GRID, lineWidth:1, drawTicks:false }, border:{ color:GRID, width:1 },
            title:{ display:true, text:xTitle, font:TITLEF, color:'#000', padding:{top:0, bottom:2} },
            afterFit:(s) => { s.height = p.xh; } },
        y:{ type:'linear', min:0, max:p.ymax,
            ticks:{ stepSize:p.ystep, padding:5, font:TICKF, color:'#000', callback:fmtTick },
            grid:{ color:GRID, lineWidth:1, drawTicks:false }, border:{ color:GRID, width:1 },
            title:{ display:true, text:p.ytitle, font:TITLEF, color:'#000', padding:{top:p.ytp, bottom:0} },
            afterFit:(s) => { s.width = p.yw; } }
      }
    },
    plugins:[makeLegendPlugin(p.legend, p.left, p.top), makeMinorPlugin(p.minor)]
  });
}

// column geometry (page px)
const colLeft = [0, 460, 910], colW = [460, 450, 454];
const rowTop = [0, 420, 840];
const boxes = [
  [[72,433,16,376],[520,883,16,379],[988,1347,16,374]],
  [[72,433,436,796],[520,883,436,799],[988,1347,436,794]],
  [[74,433,856,1215],[520,883,856,1218],[988,1347,855,1214]]
];
const xTitleY = [[414,416,411],[833,835,831],[1252,1255,1252]];
const yTitleX = [19, 18, 20];

const psaSets = [
  {avg:h19_psa_avg,hi:h19_psa_hi,lo:h19_psa_lo,recs:[h19_psa_r1,h19_psa_r2,h19_psa_r3,h19_psa_r4,h19_psa_r5],det:h19_psa_det,prob:h19_psa_prob},
  {avg:i20_psa_avg,hi:i20_psa_hi,lo:i20_psa_lo,recs:[i20_psa_r1,i20_psa_r2,i20_psa_r3,i20_psa_r4,i20_psa_r5],det:i20_psa_det,prob:i20_psa_prob},
  {avg:k22_psa_avg,hi:k22_psa_hi,lo:k22_psa_lo,recs:[k22_psa_r1,k22_psa_r2,k22_psa_r3,k22_psa_r4,k22_psa_r5],det:k22_psa_det,prob:k22_psa_prob}
];
const nrmSets = [
  {avg:h19_nrm_avg,hi:h19_nrm_hi,lo:h19_nrm_lo,ec8:h19_nrm_ec8,det:h19_nrm_det,prob:h19_nrm_prob,std:STY.gstd,ec8s:STY.ec8},
  {avg:i20_nrm_avg,hi:i20_nrm_hi,lo:i20_nrm_lo,ec8:i20_nrm_ec8,det:i20_nrm_det,prob:i20_nrm_prob,std:STY.std,ec8s:STY.ec8o},
  {avg:k22_nrm_avg,hi:k22_nrm_hi,lo:k22_nrm_lo,ec8:k22_nrm_ec8,det:k22_nrm_det,prob:k22_nrm_prob,std:STY.std,ec8s:STY.ec8}
];
const psvSets = [
  {avg:h19_psv_avg,std:h19_psv_std,recs:[h19_psv_r1,h19_psv_r2,h19_psv_r3,h19_psv_r4,h19_psv_r5]},
  {avg:i20_psv_avg,std:i20_psv_std,recs:[i20_psv_r1,i20_psv_r2,i20_psv_r3,i20_psv_r4,i20_psv_r5]},
  {avg:k22_psv_avg,std:k22_psv_std,recs:[k22_psv_r1,k22_psv_r2,k22_psv_r3,k22_psv_r4,k22_psv_r5]}
];
const leg1 = [ {x0:276,x1:306,tx:311,rows:[41,60,78,97,115]}, {x0:276,x1:306,tx:310,rows:[459,478,497,516,534]}, {x0:276,x1:307,tx:311,rows:[879,897,916,934,953]} ];
const leg2 = [ {x0:731,x1:763,tx:767,rows:[67,85,104,124,142,161],site:{x:856,y:29}}, {x0:727,x1:758,tx:762,rows:[491,509,528,547,566,584],site:{x:855,y:451}}, {x0:726,x1:757,tx:761,rows:[901,919,938,957,976,994],site:{x:859,y:872}} ];
const leg3 = [ {x0:1193,x1:1225,tx:1228,rows:[35,53,72]}, {x0:1196,x1:1226,tx:1230,rows:[456,474,493]}, {x0:1003,x1:1033,tx:1037,rows:[875,893,911]} ];

function geom(r, c) {
  const b = boxes[r][c];
  const top = rowTop[r], left = colLeft[c], w = colW[c];
  const bottom = xTitleY[r][c] + 13;
  return { left, top, w, h: bottom - top, padTop: b[2] - top, padRight: left + w - b[1],
           yw: b[0] - left, xh: bottom - b[3], ytp: yTitleX[c] - left - 11.1 };
}

for (let r = 0; r < 3; r++) {
  {
    const s = psaSets[r], g = geom(r, 0);
    const d = [ds('Probabilistic', s.prob, STY.prob), ds('Deterministic', s.det, STY.det), ds('average', s.avg, STY.avg),
               ds('average+stdev', s.hi, STY.std), ds('average-stdev', s.lo, STY.std)];
    s.recs.forEach((rc, i) => d.push(ds(sites[r] + ' rec ' + (i+1), rc, STY.rec)));
    const L = leg1[r];
    makePanel(Object.assign(g, { ymax:2.5, ystep:0.5, minor:0.1, ytitle:yTitles[0], datasets:d,
      legend:{ x0:L.x0, x1:L.x1, tx:L.tx, rows:L.rows, box:false,
        items:[{t:'average',s:STY.avg},{t:'average\u00b1stdev',s:STY.std},{t:sites[r],s:STY.rec},{t:'Deterministic',s:STY.det},{t:'Probabilistic',s:STY.prob}] } }));
  }
  {
    const s = nrmSets[r], g = geom(r, 1);
    const d = [ds(probLabels[r], s.prob, STY.prob), ds('Deterministic', s.det, STY.det), ds(ec8Labels[r], s.ec8, s.ec8s),
               ds('average', s.avg, STY.avg), ds('average+stdev', s.hi, s.std), ds('average-stdev', s.lo, s.std)];
    const L = leg2[r];
    makePanel(Object.assign(g, { ymax: r === 2 ? 6 : 5, ystep:1, minor:0.25, ytitle:yTitles[1], datasets:d,
      legend:{ x0:L.x0, x1:L.x1, tx:L.tx, rows:L.rows, box:true, site:{t:sites[r], x:L.site.x, y:L.site.y},
        items:[{t:'average',s:STY.avg},{t:'average\u00b1stdev',s:STY.gstd},null,{t:ec8Labels[r],s:STY.ec8},{t:'Deterministic',s:STY.det},{t:probLabels[r],s:STY.prob}] } }));
  }
  {
    const s = psvSets[r], g = geom(r, 2);
    const d = [ds('average', s.avg, STY.avg), ds('average-stdev', s.std, STY.std)];
    s.recs.forEach((rc, i) => d.push(ds(sites[r] + ' rec ' + (i+1), rc, STY.rec)));
    const L = leg3[r];
    makePanel(Object.assign(g, { ymax:160, ystep:20, minor:5, ytitle:yTitles[2], datasets:d,
      legend:{ x0:L.x0, x1:L.x1, tx:L.tx, rows:L.rows, box:true,
        items:[{t:'average',s:STY.avg},{t:'average\u00b1stdev',s:STY.std},{t:sites[r],s:STY.rec}] } }));
  }
}
</script>
</body></html>
